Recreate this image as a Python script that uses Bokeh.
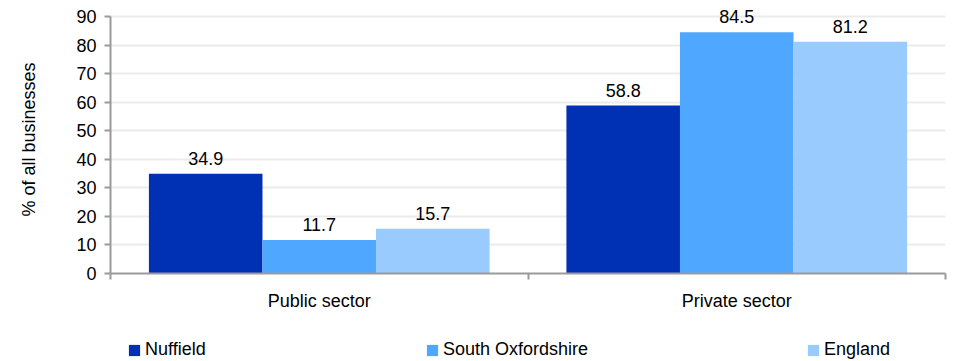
from bokeh.plotting import figure
from bokeh.layouts import column
from bokeh.models import ColumnDataSource, FixedTicker, Legend, LegendItem, LinearAxis, Range1d
from bokeh.core.properties import value
from bokeh.embed import file_html
from bokeh.resources import INLINE

categories = ["Public sector", "Private sector"]
series_names = ["Nuffield", "South Oxfordshire", "England"]
nuffield = [34.9, 58.8]
south_oxon = [11.7, 84.5]
england = [15.7, 81.2]
colors = ["#0030B3", "#4FA7FF", "#99CBFF"]
y_ticks = [0, 10, 20, 30, 40, 50, 60, 70, 80, 90]
y_max = 90

FONT = "Liberation Sans"

# frame extends a little above the 90 line so the tallest value label is not clipped
p = figure(width=950, height=320, output_backend="svg", toolbar_location=None,
           x_range=Range1d(0, 2), y_range=Range1d(0, y_max * 268 / 257),
           min_border_left=110, min_border_right=5, min_border_top=5, min_border_bottom=47,
           x_axis_location=None)
p.outline_line_color = None

centers = [i + 0.5 for i in range(len(categories))]
width = 0.272
offsets = [-width, 0, width]
for vals, off, col in zip([nuffield, south_oxon, england], offsets, colors):
    src = ColumnDataSource(dict(x=[c + off for c in centers], top=vals,
                                lab=[f"{v:.1f}" for v in vals]))
    p.vbar(x="x", top="top", width=width, bottom=0, source=src,
           fill_color=col, line_color=None)
    p.text(x="x", y="top", text="lab", source=src, text_align="center",
           text_baseline="bottom", y_offset=-9, text_font_size="18px",
           text_font=value(FONT), text_color="#000000")

# x axis
xaxis = LinearAxis(ticker=FixedTicker(ticks=centers, minor_ticks=[0, 1, 2]),
                   major_label_overrides={c: n for c, n in zip(centers, categories)})
xaxis.major_tick_line_color = None
xaxis.minor_tick_in = 0
xaxis.minor_tick_out = 6
xaxis.minor_tick_line_color = "#9a9a9a"
xaxis.minor_tick_line_width = 2
xaxis.axis_line_color = "#9a9a9a"
xaxis.axis_line_width = 2
xaxis.major_label_text_font = FONT
xaxis.major_label_text_font_size = "18px"
xaxis.major_label_text_color = "#000000"
xaxis.major_label_standoff = 11
p.add_layout(xaxis, "below")

# y axis
yaxis = p.yaxis[0]
yaxis.ticker = FixedTicker(ticks=y_ticks)
yaxis.bounds = (0, y_max)
yaxis.axis_line_color = "#9a9a9a"
yaxis.axis_line_width = 2
yaxis.major_tick_line_color = "#9a9a9a"
yaxis.major_tick_line_width = 2
yaxis.major_tick_in = 0
yaxis.major_tick_out = 6
yaxis.minor_tick_line_color = None
yaxis.major_label_text_font = FONT
yaxis.major_label_text_font_size = "18px"
yaxis.major_label_text_color = "#000000"
yaxis.major_label_standoff = 8
yaxis.axis_label = "% of all businesses"
yaxis.axis_label_text_font = FONT
yaxis.axis_label_text_font_size = "18px"
yaxis.axis_label_text_font_style = "normal"
yaxis.axis_label_text_color = "#000000"
yaxis.axis_label_standoff = 34

p.xgrid.grid_line_color = None
p.ygrid.ticker = FixedTicker(ticks=y_ticks)
p.ygrid.grid_line_color = "#ebebeb"
p.ygrid.grid_line_width = 2

# legend strip below the chart (its frame is aligned with the chart's frame)
leg = figure(width=950, height=41, output_backend="svg", toolbar_location=None,
             x_range=Range1d(0, 1), y_range=Range1d(0, 1),
             min_border=0, x_axis_location=None, y_axis_location=None)
leg.outline_line_color = None
leg.xgrid.grid_line_color = None
leg.ygrid.grid_line_color = None
legend_x = [17, 315, 696]
for name, col, lx in zip(series_names, colors, legend_x):
    r = leg.vbar(x=[-10], top=[-10], bottom=[-11], width=1, fill_color=col, line_color=None)
    lg = Legend(items=[LegendItem(label=name, renderers=[r])],
                location=(lx, 1), glyph_width=14, glyph_height=14, label_standoff=4,
                label_text_font=FONT, label_text_font_size="18px", label_text_color="#000000",
                border_line_color=None, background_fill_alpha=0, margin=0, padding=0)
    leg.add_layout(lg, "center")

layout = column(p, leg, spacing=0)
open("out.html", "w").write(file_html(layout, INLINE))
